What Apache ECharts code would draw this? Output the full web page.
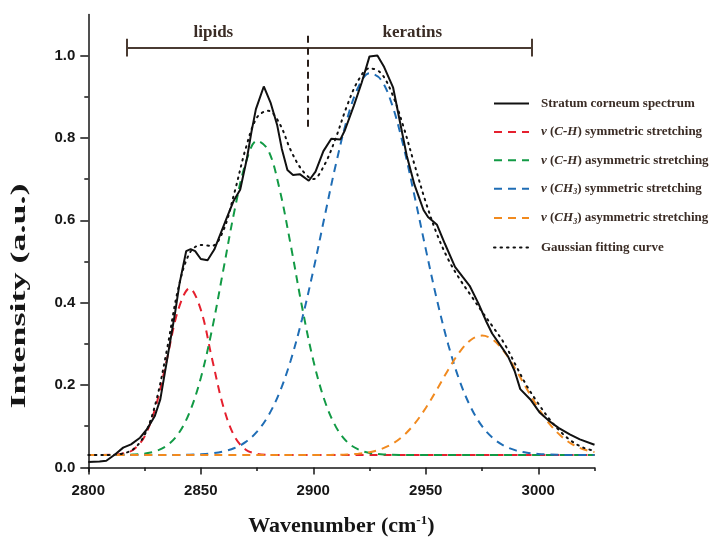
<!DOCTYPE html>
<html><head><meta charset="utf-8">
<script src="https://cdn.jsdelivr.net/npm/echarts@6/dist/echarts.min.js"></script>
<style>html,body{margin:0;padding:0;background:#fff}#c{width:712px;height:542px}</style>
</head><body><div id="c"></div>
<script>
// ---- data ----
const waveX = [2800,2805,2810,2815,2820,2825,2830,2835,2840,2845,2850,2855,2860,2865,2870,2875,2880,2885,2890,2895,2900,2905,2910,2915,2920,2925,2930,2935,2940,2945,2950,2955,2960,2965,2970,2975,2980,2985,2990,2995,3000,3005,3010,3015,3020,3025];

const specX = [2800,2805,2808,2812,2815.5,2819,2823,2826,2829.5,2832,2834,2836.5,2838.5,2840.5,2843.5,2845.5,2847.5,2850,2853,2856,2861.5,2864.5,2867.5,2870.5,2872.5,2874.5,2878,2881,2884,2886,2888.5,2891,2894,2898,2901,2904.5,2908,2912,2914,2918,2921.5,2925,2928.5,2931.5,2935.5,2938.5,2941.5,2945,2949,2951,2955,2958.5,2963,2966.5,2969.5,2973.5,2977,2979.5,2983.5,2986.5,2989.5,2992,2996.5,3000.5,3005,3009,3014,3018.5,3025];
const specY = [0.013,0.014,0.016,0.032,0.048,0.056,0.072,0.092,0.124,0.165,0.229,0.309,0.373,0.445,0.525,0.530,0.525,0.506,0.503,0.529,0.605,0.646,0.674,0.750,0.814,0.870,0.925,0.886,0.830,0.774,0.722,0.710,0.712,0.696,0.718,0.768,0.798,0.796,0.818,0.878,0.934,0.998,1.000,0.972,0.922,0.840,0.758,0.686,0.625,0.608,0.589,0.543,0.487,0.462,0.441,0.397,0.353,0.325,0.294,0.270,0.234,0.190,0.165,0.134,0.112,0.096,0.080,0.068,0.055];

const chSym = [0.030,0.030,0.0305,0.033,0.043,0.075,0.148,0.264,0.383,0.435,0.383,0.264,0.148,0.075,0.043,0.033,0.0305,0.030,0.030,0.030,0.030,0.030,0.030,0.030,0.030,0.030,0.030,0.030,0.030,0.030,0.030,0.030,0.030,0.030,0.030,0.030,0.030,0.030,0.030,0.030,0.030,0.030,0.030,0.030,0.030,0.030];
const chAsym = [0.030,0.030,0.0301,0.0303,0.0311,0.0334,0.0393,0.0531,0.0814,0.1335,0.217,0.335,0.479,0.624,0.740,0.793,0.770,0.676,0.539,0.390,0.260,0.163,0.099,0.062,0.0436,0.0351,0.0318,0.0305,0.0302,0.030,0.030,0.030,0.030,0.030,0.030,0.030,0.030,0.030,0.030,0.030,0.030,0.030,0.030,0.030,0.030,0.030];
const ch3Sym = [0.030,0.030,0.030,0.030,0.030,0.030,0.030,0.030,0.0303,0.0308,0.0319,0.0341,0.0386,0.047,0.0618,0.0866,0.1254,0.182,0.260,0.360,0.478,0.608,0.735,0.845,0.923,0.957,0.942,0.881,0.782,0.659,0.530,0.406,0.298,0.211,0.146,0.100,0.0704,0.052,0.0413,0.0355,0.0326,0.0311,0.0305,0.030,0.030,0.030];
const ch3Asym = [0.030,0.030,0.030,0.030,0.030,0.030,0.030,0.030,0.030,0.030,0.030,0.030,0.030,0.030,0.030,0.030,0.030,0.030,0.030,0.030,0.030,0.0302,0.0305,0.0314,0.0333,0.037,0.0441,0.0566,0.0767,0.1058,0.1442,0.1896,0.2373,0.2798,0.3094,0.320,0.3094,0.2798,0.2373,0.1896,0.1442,0.1058,0.0767,0.0566,0.0441,0.037];
const fitY = [0.030,0.030,0.0305,0.0333,0.0441,0.0784,0.1573,0.2871,0.4347,0.520,0.540,0.538,0.575,0.668,0.775,0.850,0.866,0.835,0.770,0.722,0.700,0.735,0.800,0.878,0.940,0.969,0.958,0.908,0.829,0.735,0.644,0.566,0.505,0.458,0.418,0.378,0.340,0.300,0.248,0.197,0.155,0.117,0.086,0.063,0.048,0.040];

const xTickVals = [2800,2850,2900,2950,3000];
const xMinorVals = [2825,2875,2925,2975,3025];
const yTickVals = [0,0.2,0.4,0.6,0.8,1.0];
const yMinorVals = [0.1,0.3,0.5,0.7,0.9];

const seriesNames = ['Stratum corneum spectrum','ν (C-H) symmetric stretching','ν (C-H) asymmetric stretching','ν (CH3) symmetric stretching','ν (CH3) asymmetric stretching','Gaussian fitting curve'];
const legendLabels = {
  'Stratum corneum spectrum':'Stratum corneum spectrum',
  'ν (C-H) symmetric stretching':'{i|ν} ({i|C-H}) symmetric stretching',
  'ν (C-H) asymmetric stretching':'{i|ν} ({i|C-H}) asymmetric stretching',
  'ν (CH3) symmetric stretching':'{i|ν} ({i|CH}{s|3}) symmetric stretching',
  'ν (CH3) asymmetric stretching':'{i|ν} ({i|CH}{s|3}) asymmetric stretching',
  'Gaussian fitting curve':'Gaussian fitting curve'
};
const regionNames = ['lipids','keratins'];

// ---- build ----
const zip = (xs, ys) => xs.map((x, i) => [x, ys[i]]);
const serif = '"Liberation Serif", "Times New Roman", serif';
const sans = '"Liberation Sans", Arial, sans-serif';
const axisCol = '#161616';
const textCol = '#3a2c25';

const dashed = (name, ys, color) => ({
  name, type:'line', data: zip(waveX, ys), smooth: 0.35, symbol:'none', showSymbol:false,
  lineStyle:{color, width:2, type:[8,6]}, itemStyle:{color}, z:2
});

const chart = echarts.init(document.getElementById('c'), null, {renderer:'canvas'});
chart.setOption({
  animation:false,
  backgroundColor:'#fff',
  grid:{left:88.3, right:117.5, top:14.4, bottom:66.1, containLabel:false},
  xAxis:[{
    type:'value', min:2800, max:3025, position:'bottom',
    axisLine:{lineStyle:{color:axisCol, width:1.5}},
    axisTick:{customValues:xTickVals, length:7, lineStyle:{color:axisCol, width:1.5}},
    axisLabel:{customValues:xTickVals, formatter:v => String(v), fontFamily:sans, fontWeight:'bold', fontSize:15, color:axisCol, margin:12},
    splitLine:{show:false},
    name:'Wavenumber (cm{sup|-1})', nameLocation:'middle', nameGap:43,
    nameTextStyle:{fontFamily:serif, fontWeight:'bold', fontSize:22, color:axisCol,
      rich:{sup:{fontFamily:serif, fontWeight:'bold', fontSize:13, color:axisCol, padding:[0,0,10,0]}}}
  },{
    type:'value', min:2800, max:3025, position:'bottom',
    axisLine:{show:false},
    axisTick:{customValues:xMinorVals, length:3.5, lineStyle:{color:axisCol, width:1.5}},
    axisLabel:{show:false}, splitLine:{show:false}
  }],
  yAxis:[{
    type:'value', min:-0.01, max:1.1, position:'left',
    axisLine:{show:true, lineStyle:{color:axisCol, width:1.5}},
    axisTick:{show:true, customValues:yTickVals, length:8, lineStyle:{color:axisCol, width:1.5}},
    axisLabel:{customValues:yTickVals, formatter:v => v.toFixed(1), fontFamily:sans, fontWeight:'bold', fontSize:15, color:axisCol, margin:13},
    splitLine:{show:false}
  },{
    type:'value', min:-0.01, max:1.1, position:'left',
    axisLine:{show:false},
    axisTick:{show:true, customValues:yMinorVals, length:4, lineStyle:{color:axisCol, width:1.5}},
    axisLabel:{show:false}, splitLine:{show:false}
  }],
  legend:{
    orient:'vertical', left:488, top:92, itemWidth:35, itemHeight:14, itemGap:15.4,
    data:seriesNames,
    itemStyle:{opacity:0},
    formatter:name => legendLabels[name],
    textStyle:{fontFamily:serif, fontWeight:'bold', fontSize:13, color:textCol, padding:[0,0,0,7],
      rich:{
        i:{fontFamily:serif, fontWeight:'bold', fontStyle:'italic', fontSize:13, color:textCol},
        s:{fontFamily:serif, fontWeight:'bold', fontStyle:'italic', fontSize:8, color:textCol, padding:[7,0,0,0]}
      }}
  },
  graphic:[{
    type:'text', x:20, y:296, rotation:Math.PI/2, scaleX:1.8, scaleY:1,
    style:{text:'Intensity (a.u.)', font:'bold 20px "Liberation Serif"', fill:axisCol, align:'center', verticalAlign:'middle'}
  }],
  series:[
    dashed(seriesNames[1], chSym, '#e5202e'),
    dashed(seriesNames[2], chAsym, '#129a45'),
    dashed(seriesNames[3], ch3Sym, '#1f6db5'),
    dashed(seriesNames[4], ch3Asym, '#f18a1f'),
    {name:seriesNames[0], type:'line', data:zip(specX, specY), symbol:'none', showSymbol:false,
      lineStyle:{color:'#111', width:2}, itemStyle:{color:'#111'}, z:3},
    {name:seriesNames[5], type:'line', data:zip(waveX, fitY), smooth:0.35, symbol:'none', showSymbol:false,
      lineStyle:{color:'#111', width:2, type:[1.5,5], cap:'round'}, itemStyle:{color:'#111'}, z:4},
    {name:'annot', type:'line', data:[], silent:true,
      markLine:{silent:true, symbol:'none', label:{show:false},
        lineStyle:{color:'#4a3b32', width:2, type:'solid'},
        data:[
          [{coord:[2817.3,1.02]},{coord:[2997.1,1.02]}],
          [{coord:[2817.3,1.041]},{coord:[2817.3,0.998]}],
          [{coord:[2997.1,1.041]},{coord:[2997.1,0.998]}],
          [{coord:[2897.7,1.048], lineStyle:{color:'#2a1f1a', width:2, type:[7,5]}},{coord:[2897.7,0.82]}]
        ]},
      markPoint:{silent:true, symbol:'circle', symbolSize:0,
        label:{show:true, position:'inside', formatter:'{b}', fontFamily:serif, fontWeight:'bold', fontSize:17, color:textCol},
        data:[{name:regionNames[0], coord:[2855.6,1.055]},{name:regionNames[1], coord:[2944,1.055]}]}
    }
  ]
});
</script></body></html>
